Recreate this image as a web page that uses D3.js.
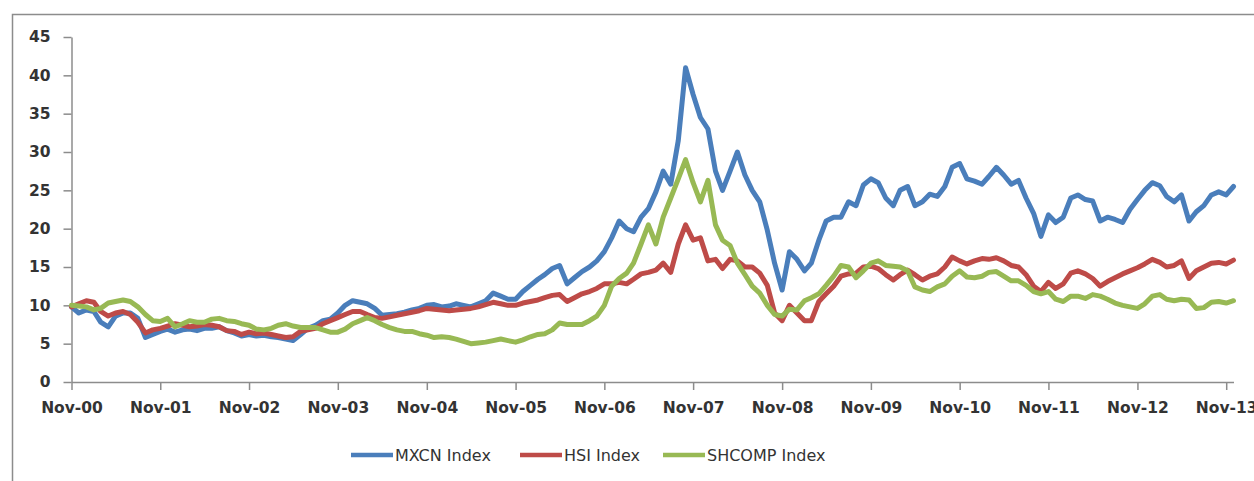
<!DOCTYPE html>
<html lang="en">
<head>
<meta charset="UTF-8">
<title>MXCN / HSI / SHCOMP</title>
<script src="https://d3js.org/d3.v7.min.js"></script>
<style>
  body { margin: 0; background: #fff; }
  svg { display: block; }
</style>
</head>
<body>
<div id="chart"></div>
<script>

// monthly points, Nov 2000 .. Dec 2013
const months = d3.utcMonth.range(new Date(Date.UTC(2000, 10, 1)), new Date(Date.UTC(2014, 0, 1)));

const mxcn = [
  9.8, 9.0, 9.4, 9.2, 7.8, 7.2, 8.6, 9.0, 9.0, 8.3, 5.8, 6.2,
  6.6, 6.9, 6.5, 6.8, 6.9, 6.7, 7.0, 7.0, 7.2, 6.7, 6.4, 6.0,
  6.2, 6.0, 6.1, 5.9, 5.8, 5.6, 5.4, 6.2, 7.0, 7.4, 8.0, 8.2,
  9.0, 10.0, 10.6, 10.4, 10.2, 9.6, 8.7, 8.8, 8.9, 9.1, 9.4, 9.6,
  10.0, 10.1, 9.8, 9.9, 10.2, 10.0, 9.8, 10.2, 10.6, 11.6, 11.2, 10.8,
  10.8, 11.8, 12.6, 13.4, 14.0, 14.8, 15.2, 12.8, 13.6, 14.4, 15.0, 15.8,
  17.0, 18.8, 21.0, 20.0, 19.6, 21.5, 22.6, 24.8, 27.5, 25.8, 31.5, 41.0,
  37.5, 34.5, 33.0, 27.5, 25.0, 27.5, 30.0, 27.0, 25.0, 23.5, 19.8, 15.5,
  12.0, 17.0, 16.0, 14.5, 15.5, 18.5, 21.0, 21.5, 21.5, 23.5, 23.0, 25.7,
  26.5, 26.0, 24.0, 23.0, 25.0, 25.5, 23.0, 23.5, 24.5, 24.2, 25.5, 28.0,
  28.5, 26.5, 26.2, 25.8, 26.8, 28.0, 27.0, 25.8, 26.3, 24.0, 22.0, 19.0,
  21.8, 20.8, 21.5, 24.0, 24.4, 23.8, 23.6, 21.0, 21.5, 21.2, 20.8, 22.5,
  23.8, 25.0, 26.0, 25.6, 24.2, 23.5, 24.4, 21.0, 22.2, 23.0, 24.4, 24.8,
  24.4, 25.5
];

const hsi = [
  9.8, 10.2, 10.6, 10.4, 9.2, 8.6, 9.0, 9.2, 8.8, 7.8, 6.4, 6.8,
  7.0, 7.3, 7.6, 7.4, 7.2, 7.3, 7.5, 7.4, 7.2, 6.7, 6.6, 6.2,
  6.5, 6.3, 6.4, 6.2, 6.0, 5.8, 5.9, 6.6, 6.8, 7.0, 7.6, 8.0,
  8.4, 8.8, 9.2, 9.2, 8.8, 8.4, 8.3, 8.5, 8.7, 8.9, 9.1, 9.3,
  9.6, 9.5, 9.4, 9.3, 9.4, 9.5, 9.6, 9.8, 10.1, 10.4, 10.2, 10.0,
  10.0, 10.3, 10.5, 10.7, 11.0, 11.3, 11.4, 10.5, 11.0, 11.5, 11.8, 12.2,
  12.8, 12.8, 13.0, 12.8, 13.4, 14.1, 14.3, 14.6, 15.5, 14.3, 18.0, 20.5,
  18.5, 18.8, 15.8, 16.0, 14.8, 16.0, 15.8, 15.0, 15.0, 14.2, 12.6, 9.0,
  8.0, 10.0, 9.0, 8.0, 8.0, 10.5, 11.5, 12.5, 13.8, 14.1, 14.2, 15.0,
  15.1, 14.8, 14.0, 13.3, 14.0, 14.6, 14.0, 13.3, 13.8, 14.1, 15.0, 16.3,
  15.8, 15.4, 15.8, 16.1, 16.0, 16.2, 15.8, 15.2, 15.0, 14.0, 12.5, 11.8,
  13.0, 12.2, 12.8, 14.2, 14.5, 14.1, 13.5, 12.5, 13.1, 13.6, 14.1, 14.5,
  14.9, 15.4, 16.0, 15.6, 15.0, 15.2, 15.8, 13.5, 14.5, 15.0, 15.5, 15.6,
  15.4, 15.9
];

const shcomp = [
  10.0, 9.9, 9.8, 9.4, 9.6, 10.3, 10.5, 10.7, 10.5, 9.8, 8.8, 8.0,
  7.9, 8.3, 7.2, 7.6, 8.0, 7.8, 7.8, 8.2, 8.3, 8.0, 7.9, 7.6,
  7.4, 6.9, 6.8, 7.0, 7.4, 7.6, 7.3, 7.1, 7.1, 7.1, 6.8, 6.5,
  6.5, 6.9, 7.6, 8.0, 8.4, 8.0, 7.5, 7.1, 6.8, 6.6, 6.6, 6.3,
  6.1, 5.8, 5.9, 5.8, 5.6, 5.3, 5.0, 5.1, 5.2, 5.4, 5.6, 5.4,
  5.2, 5.5, 5.9, 6.2, 6.3, 6.8, 7.7, 7.5, 7.5, 7.5, 8.0, 8.6,
  10.0, 12.5, 13.5, 14.2, 15.5, 18.0, 20.5, 18.0, 21.5, 24.0, 26.5, 29.0,
  26.0, 23.5, 26.3, 20.5, 18.5, 17.8, 15.5, 14.0, 12.5, 11.6, 10.0, 8.8,
  8.6, 9.5, 9.4, 10.6, 11.0, 11.5, 12.6, 13.8, 15.2, 15.0, 13.6, 14.5,
  15.5, 15.8, 15.2, 15.1, 15.0, 14.5, 12.4, 12.0, 11.8, 12.4, 12.8, 13.8,
  14.5, 13.7, 13.6, 13.8, 14.3, 14.4, 13.8, 13.2, 13.2, 12.6, 11.8, 11.5,
  11.8, 10.8, 10.5, 11.2, 11.2, 10.9, 11.4, 11.2, 10.8, 10.3, 10.0, 9.8,
  9.6, 10.2, 11.2, 11.4, 10.8, 10.6, 10.8, 10.7, 9.6, 9.7, 10.4, 10.5,
  10.3, 10.6
];

const seriesNames = ["MXCN Index", "HSI Index", "SHCOMP Index"];
const seriesColors = ["#4A7EBB", "#BE4B48", "#98B954"];
const yTicks = [0, 5, 10, 15, 20, 25, 30, 35, 40, 45];

const width = 1254, height = 481;
const plotLeft = 71.5, plotRight = 1233.5, plotTop = 37, plotBottom = 382;

const svg = d3.select("#chart").append("svg")
  .attr("width", width)
  .attr("height", height);

// outer chart frame (runs off the right and bottom edges)
svg.append("rect")
  .attr("x", 12.5).attr("y", 14.5)
  .attr("width", 1300).attr("height", 520)
  .attr("fill", "none")
  .attr("stroke", "#8c8c8c")
  .attr("stroke-width", 1.5);

const x = d3.scaleUtc()
  .domain([months[0], months[months.length - 1]])
  .range([plotLeft, plotRight]);

const y = d3.scaleLinear()
  .domain([0, 45])
  .range([plotBottom, plotTop]);

// y axis
const yAxis = svg.append("g")
  .attr("transform", `translate(${plotLeft},0)`)
  .call(d3.axisLeft(y).tickValues(yTicks).tickSize(8).tickPadding(13).tickSizeOuter(0));

// x axis
const novTicks = months.filter(d => d.getUTCMonth() === 10);
const xAxis = svg.append("g")
  .attr("transform", `translate(0,${plotBottom})`)
  .call(d3.axisBottom(x).tickValues(novTicks).tickFormat(d3.utcFormat("%b-%y"))
    .tickSize(8).tickPadding(12).tickSizeOuter(0));

[yAxis, xAxis].forEach(g => {
  g.selectAll("path, line").attr("stroke", "#8c8c8c").attr("stroke-width", 1.5);
  g.selectAll("text")
    .attr("fill", "#333")
    .style("font-family", "'DejaVu Sans', sans-serif")
    .style("font-size", "15.5px")
    .style("font-weight", "bold");
});

// lines
const line = d3.line()
  .x((d, i) => x(months[i]))
  .y(d => y(d));

[mxcn, hsi, shcomp].forEach((vals, k) => {
  svg.append("path")
    .datum(vals)
    .attr("fill", "none")
    .attr("stroke", seriesColors[k])
    .attr("stroke-width", 5)
    .attr("stroke-linejoin", "round")
    .attr("stroke-linecap", "round")
    .attr("d", line);
});

// legend
const legendX = [351, 520, 663];
const legend = svg.append("g").attr("transform", "translate(0,455)");
seriesNames.forEach((name, k) => {
  legend.append("line")
    .attr("x1", legendX[k]).attr("x2", legendX[k] + 42)
    .attr("stroke", seriesColors[k])
    .attr("stroke-width", 4.5);
  legend.append("text")
    .attr("x", legendX[k] + 44)
    .attr("dy", "0.35em")
    .attr("fill", "#333")
    .style("font-family", "'DejaVu Sans', sans-serif")
    .style("font-size", "16px")
    .text(name);
});

</script>
</body>
</html>
